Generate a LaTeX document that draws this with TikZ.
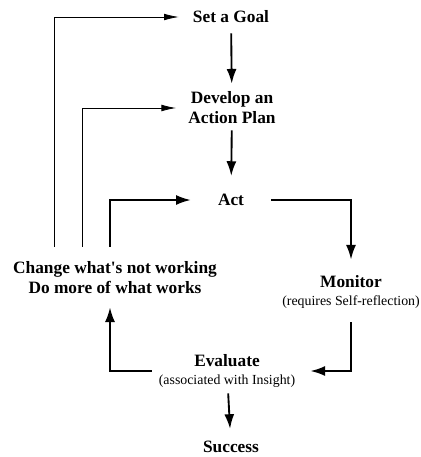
\documentclass[tikz,border=0pt]{standalone}
\usepackage{fontspec}
\setmainfont{Liberation Serif}
\usetikzlibrary{arrows.meta,calc}
\newcommand{\remark}[1]{{\fontsize{10.4}{12}\selectfont\mdseries #1}}
\tikzset{
  stage/.style={font=\fontsize{13}{15}\selectfont\bfseries, align=center, inner sep=0pt},
  flow/.style={line width=1.4pt, -{Latex[length=11pt,width=7.5pt]}},
  back/.style={line width=0.6pt, -{Latex[length=11pt,width=5pt]}}
}
\begin{document}
\begin{tikzpicture}[x=0.75pt,y=-0.75pt]
  \useasboundingbox (0,0) rectangle (421,457);
  \node[stage] (goal) at (231,17) {Set a Goal};
  \node[stage] (plan) at (232,108) {Develop an\\Action Plan};
  \node[stage] (act) at (231,200) {Act};
  \node[stage] (monitor) at (351,292) {Monitor\\[-2pt]\remark{(requires Self-reflection)}};
  \node[stage] (evaluate) at (227,371) {Evaluate\\[-2pt]\remark{(associated with Insight)}};
  \node[stage] (success) at (231,447) {Success};
  \node[stage] (change) at (115,278) {Change what\textquotesingle s not working\\Do more of what works};
  % main cycle
  \draw[flow, shorten <=10pt*0.75, shorten >=8pt*0.75] (goal) -- (plan);
  \draw[flow, shorten <=6pt*0.75, shorten >=18pt*0.75] (plan) -- (act);
  \draw[flow, shorten <=27pt*0.75, shorten >=16pt*0.75] (act.east) -| (monitor.north);
  \draw[flow, shorten <=14pt*0.75, shorten >=15pt*0.75] (monitor.south) |- (evaluate.east);
  \draw[flow, shorten <=6pt*0.75, shorten >=12pt*0.75] (evaluate) -- (success);
  \draw[flow, shorten <=7pt*0.75, shorten >=13pt*0.75] (evaluate.west) -| ($(change.south)+(-5,0)$);
  % feedback
  \draw[flow, shorten >=27pt*0.75] ($(change.north)+(-5,-15)$) |- (act.west);
  \draw[back, shorten >=12pt*0.75] ($(change.north)+(-33,-15)$) |- (plan.west);
  \draw[back, shorten >=14pt*0.75] ($(change.north)+(-61,-15)$) |- (goal.west);
\end{tikzpicture}
\end{document}
